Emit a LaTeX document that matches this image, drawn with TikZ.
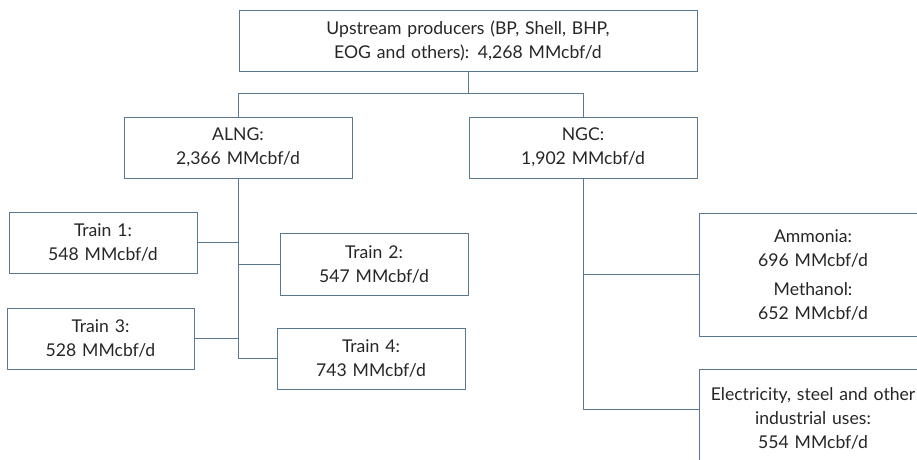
\documentclass[tikz,border=0pt]{standalone}
\usepackage{fontspec}
\setmainfont{Lato}
\usetikzlibrary{positioning}
\definecolor{linegrey}{HTML}{5B7891}
\definecolor{textgrey}{HTML}{262626}

\begin{document}
\begin{tikzpicture}[x=1pt,y=-1pt,
	box/.style={draw=linegrey,line width=1pt,inner sep=0pt,align=center,text=textgrey,
		font=\fontsize{17.6}{24}\selectfont},
	link/.style={draw=linegrey,line width=1pt}]
		\clip (0,0) rectangle (917,459);
		\node[box,text width=458,minimum height=61] (up) at (468,40.5) {Upstream producers (BP, Shell, BHP,\\EOG and others): 4,268 MMcbf/d};
		\node[box,text width=228,minimum height=61] (alng) at (238,147.5) {ALNG:\\2,366 MMcbf/d};
		\node[box,text width=228,minimum height=61] (ngc) at (583,147.5) {NGC:\\1,902 MMcbf/d};
		\node[box,text width=188,minimum height=61] (tr1) at (103,242.5) {Train 1:\\548 MMcbf/d};
		\node[box,text width=188,minimum height=62] (tr2) at (374,264) {Train 2:\\547 MMcbf/d};
		\node[box,text width=187,minimum height=61] (tr3) at (100.5,338.5) {Train 3:\\528 MMcbf/d};
		\node[box,text width=188,minimum height=61] (tr4) at (371,358.5) {Train 4:\\743 MMcbf/d};
		\node[box,text width=228,minimum height=123] (chem) at (813,274.5) {Ammonia:\\696 MMcbf/d\\[5pt]Methanol:\\652 MMcbf/d};
		\node[box,text width=228,minimum height=98] (elec) at (813,418) {Electricity, steel and other\\industrial uses:\\554 MMcbf/d};
		% split below the producers
		\draw[link] (up.south) -- ++(0,22) coordinate (split);
		\draw[link] (alng.north) |- (split) -| (ngc.north);
		% ALNG trains:
		\draw[link] (alng.south) -- (alng.south |- tr4.west) -- (tr4.west);
		\draw[link] (tr1.east) -- (tr1.east -| alng.south);
		\draw[link] (tr2.west) -- (tr2.west -| alng.south);
		\draw[link] (tr3.east) -- (tr3.east -| alng.south);
		% NGC users:
		\draw[link] (ngc.south) |- ([yshift=9pt]elec.west);
		\draw[link] (chem.west) -- (chem.west -| ngc.south);
\end{tikzpicture}
\end{document}
